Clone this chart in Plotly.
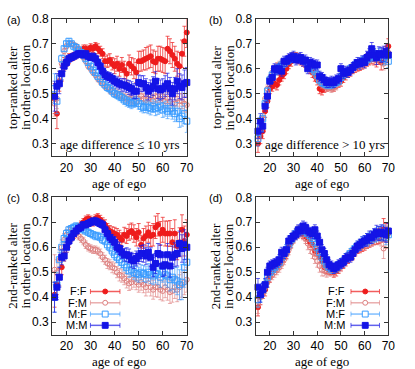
import plotly.graph_objects as go

# ages of ego (one bin per year)
ages = list(range(15, 71))
groups = ['F:F', 'F:M', 'M:F', 'M:M']

# (a) top-ranked alter, age difference <= 10 yrs
a_ff = [0.48, 0.42, 0.55, 0.58, 0.62, 0.63, 0.64, 0.645, 0.65, 0.655, 0.66, 0.665, 0.68, 0.68, 0.675, 0.685, 0.68, 0.69, 0.68, 0.67,
        0.66, 0.63, 0.63, 0.635, 0.62, 0.61, 0.62, 0.60, 0.615, 0.595, 0.58, 0.62, 0.61, 0.60, 0.585, 0.63, 0.63, 0.635, 0.64, 0.645,
        0.65, 0.63, 0.625, 0.64, 0.64, 0.635, 0.63, 0.68, 0.67, 0.655, 0.64, 0.62, 0.61, 0.66, 0.71, 0.745]
a_ff_err = [0.06, 0.06, 0.04, 0.03, 0.025, 0.02, 0.02, 0.015, 0.015, 0.015, 0.015, 0.015, 0.015, 0.015, 0.015, 0.015, 0.015, 0.015, 0.02, 0.02,
            0.02, 0.02, 0.025, 0.025, 0.025, 0.03, 0.03, 0.03, 0.03, 0.035, 0.035, 0.035, 0.035, 0.04, 0.04, 0.04, 0.04, 0.04, 0.045, 0.045,
            0.045, 0.045, 0.045, 0.05, 0.05, 0.05, 0.05, 0.05, 0.05, 0.05, 0.05, 0.05, 0.055, 0.055, 0.06, 0.06]
a_fm = [0.46, 0.48, 0.55, 0.62, 0.67, 0.69, 0.70, 0.70, 0.695, 0.69, 0.68, 0.665, 0.645, 0.63, 0.61, 0.60, 0.585, 0.575, 0.56, 0.55,
        0.54, 0.53, 0.525, 0.515, 0.51, 0.505, 0.50, 0.495, 0.49, 0.485, 0.48, 0.48, 0.475, 0.47, 0.47, 0.48, 0.49, 0.48, 0.475, 0.48,
        0.49, 0.47, 0.49, 0.49, 0.48, 0.49, 0.47, 0.48, 0.47, 0.46, 0.46, 0.48, 0.47, 0.47, 0.46, 0.455]
a_fm_err = [0.05, 0.04, 0.025, 0.015, 0.012, 0.01, 0.01, 0.01, 0.01, 0.01, 0.01, 0.01, 0.01, 0.01, 0.01, 0.01, 0.01, 0.01, 0.012, 0.012,
            0.012, 0.012, 0.012, 0.015, 0.015, 0.015, 0.015, 0.015, 0.015, 0.015, 0.018, 0.018, 0.018, 0.018, 0.02, 0.02, 0.02, 0.02, 0.02, 0.022,
            0.022, 0.022, 0.022, 0.025, 0.025, 0.025, 0.025, 0.025, 0.028, 0.028, 0.028, 0.03, 0.03, 0.03, 0.03, 0.03]
a_mf = [0.52, 0.47, 0.56, 0.64, 0.68, 0.70, 0.71, 0.70, 0.69, 0.685, 0.675, 0.665, 0.655, 0.64, 0.625, 0.61, 0.595, 0.585, 0.57, 0.56,
        0.545, 0.535, 0.525, 0.52, 0.51, 0.50, 0.495, 0.49, 0.485, 0.475, 0.47, 0.465, 0.46, 0.465, 0.47, 0.46, 0.45, 0.445, 0.45, 0.445,
        0.44, 0.45, 0.44, 0.445, 0.45, 0.435, 0.44, 0.43, 0.44, 0.43, 0.42, 0.43, 0.40, 0.41, 0.42, 0.39]
a_mf_err = [0.06, 0.05, 0.03, 0.015, 0.01, 0.01, 0.01, 0.01, 0.01, 0.01, 0.01, 0.01, 0.01, 0.01, 0.01, 0.01, 0.01, 0.01, 0.012, 0.012,
            0.012, 0.012, 0.015, 0.015, 0.015, 0.015, 0.015, 0.018, 0.018, 0.018, 0.02, 0.02, 0.02, 0.02, 0.02, 0.022, 0.022, 0.022, 0.025, 0.025,
            0.025, 0.025, 0.028, 0.028, 0.028, 0.03, 0.03, 0.03, 0.03, 0.032, 0.032, 0.035, 0.035, 0.04, 0.04, 0.045]
a_mm = [0.49, 0.53, 0.54, 0.58, 0.61, 0.625, 0.64, 0.645, 0.65, 0.655, 0.66, 0.66, 0.655, 0.66, 0.65, 0.645, 0.65, 0.64, 0.625, 0.61,
        0.59, 0.575, 0.57, 0.565, 0.56, 0.55, 0.545, 0.54, 0.535, 0.535, 0.53, 0.525, 0.52, 0.51, 0.51, 0.545, 0.54, 0.54, 0.525, 0.51,
        0.52, 0.53, 0.55, 0.52, 0.515, 0.52, 0.53, 0.54, 0.52, 0.50, 0.52, 0.55, 0.53, 0.525, 0.54, 0.545]
a_mm_err = [0.06, 0.05, 0.04, 0.025, 0.02, 0.015, 0.015, 0.012, 0.012, 0.012, 0.012, 0.012, 0.012, 0.012, 0.012, 0.012, 0.012, 0.015, 0.015, 0.015,
            0.015, 0.018, 0.018, 0.02, 0.02, 0.02, 0.022, 0.022, 0.025, 0.025, 0.025, 0.028, 0.028, 0.03, 0.03, 0.03, 0.032, 0.032, 0.035, 0.035,
            0.035, 0.038, 0.038, 0.04, 0.04, 0.04, 0.042, 0.042, 0.045, 0.045, 0.045, 0.05, 0.05, 0.05, 0.055, 0.06]

# (b) top-ranked alter, age difference > 10 yrs
b_ff = [0.30, 0.33, 0.35, 0.43, 0.47, 0.52, 0.53, 0.54, 0.535, 0.555, 0.57, 0.58, 0.60, 0.62, 0.63, 0.645, 0.645, 0.64, 0.635, 0.63,
        0.625, 0.615, 0.60, 0.585, 0.57, 0.555, 0.52, 0.515, 0.525, 0.53, 0.535, 0.535, 0.53, 0.54, 0.545, 0.55, 0.565, 0.575, 0.585, 0.59,
        0.60, 0.605, 0.61, 0.615, 0.62, 0.625, 0.635, 0.64, 0.645, 0.64, 0.635, 0.645, 0.625, 0.65, 0.66, 0.69]
b_ff_err = [0.035, 0.03, 0.03, 0.025, 0.025, 0.02, 0.02, 0.02, 0.02, 0.02, 0.02, 0.02, 0.02, 0.02, 0.02, 0.02, 0.02, 0.02, 0.02, 0.02,
            0.02, 0.02, 0.02, 0.02, 0.02, 0.02, 0.02, 0.02, 0.02, 0.02, 0.02, 0.02, 0.02, 0.02, 0.02, 0.02, 0.02, 0.02, 0.02, 0.02,
            0.02, 0.02, 0.02, 0.022, 0.022, 0.022, 0.025, 0.025, 0.025, 0.025, 0.028, 0.028, 0.03, 0.03, 0.03, 0.03]
b_fm = [0.33, 0.36, 0.40, 0.48, 0.52, 0.56, 0.585, 0.60, 0.61, 0.615, 0.62, 0.625, 0.63, 0.64, 0.645, 0.65, 0.65, 0.645, 0.64, 0.63,
        0.62, 0.61, 0.60, 0.59, 0.575, 0.56, 0.545, 0.535, 0.53, 0.525, 0.525, 0.52, 0.525, 0.53, 0.545, 0.56, 0.57, 0.58, 0.585, 0.595,
        0.60, 0.61, 0.615, 0.62, 0.625, 0.63, 0.635, 0.645, 0.64, 0.65, 0.645, 0.64, 0.645, 0.62, 0.64, 0.665]
b_fm_err = [0.03, 0.025, 0.02, 0.02, 0.015, 0.015, 0.015, 0.015, 0.015, 0.015, 0.015, 0.015, 0.015, 0.015, 0.015, 0.015, 0.015, 0.015, 0.015, 0.015,
            0.015, 0.015, 0.015, 0.015, 0.015, 0.015, 0.015, 0.015, 0.015, 0.015, 0.015, 0.015, 0.015, 0.015, 0.015, 0.015, 0.015, 0.015, 0.015, 0.015,
            0.015, 0.015, 0.015, 0.018, 0.018, 0.018, 0.02, 0.02, 0.02, 0.02, 0.022, 0.022, 0.025, 0.025, 0.025, 0.025]
b_mf = [0.32, 0.36, 0.40, 0.46, 0.51, 0.555, 0.575, 0.59, 0.60, 0.605, 0.615, 0.62, 0.63, 0.635, 0.64, 0.645, 0.645, 0.64, 0.64, 0.635,
        0.63, 0.62, 0.61, 0.60, 0.59, 0.575, 0.555, 0.545, 0.54, 0.535, 0.535, 0.535, 0.54, 0.545, 0.55, 0.565, 0.575, 0.585, 0.59, 0.60,
        0.605, 0.615, 0.62, 0.625, 0.63, 0.635, 0.64, 0.645, 0.65, 0.655, 0.65, 0.66, 0.655, 0.64, 0.65, 0.63]
b_mf_err = [0.03, 0.025, 0.02, 0.02, 0.015, 0.015, 0.015, 0.015, 0.015, 0.015, 0.015, 0.015, 0.015, 0.015, 0.015, 0.015, 0.015, 0.015, 0.015, 0.015,
            0.015, 0.015, 0.015, 0.015, 0.015, 0.015, 0.015, 0.015, 0.015, 0.015, 0.015, 0.015, 0.015, 0.015, 0.015, 0.015, 0.015, 0.015, 0.015, 0.015,
            0.015, 0.015, 0.015, 0.018, 0.018, 0.018, 0.02, 0.02, 0.02, 0.02, 0.022, 0.022, 0.025, 0.025, 0.025, 0.025]
b_mm = [0.35, 0.39, 0.37, 0.45, 0.49, 0.55, 0.565, 0.60, 0.595, 0.60, 0.59, 0.63, 0.63, 0.64, 0.645, 0.65, 0.635, 0.64, 0.645, 0.63,
        0.635, 0.60, 0.625, 0.62, 0.615, 0.615, 0.57, 0.565, 0.555, 0.545, 0.545, 0.55, 0.545, 0.555, 0.56, 0.60, 0.58, 0.59, 0.585, 0.595,
        0.605, 0.615, 0.625, 0.62, 0.63, 0.625, 0.645, 0.655, 0.68, 0.655, 0.645, 0.66, 0.655, 0.66, 0.67, 0.655]
b_mm_err = [0.03, 0.03, 0.025, 0.02, 0.02, 0.02, 0.02, 0.02, 0.02, 0.02, 0.02, 0.02, 0.02, 0.02, 0.02, 0.02, 0.02, 0.02, 0.02, 0.02,
            0.02, 0.02, 0.02, 0.02, 0.02, 0.02, 0.02, 0.02, 0.02, 0.02, 0.02, 0.02, 0.02, 0.02, 0.02, 0.02, 0.02, 0.02, 0.02, 0.02,
            0.02, 0.02, 0.02, 0.022, 0.022, 0.022, 0.025, 0.025, 0.025, 0.025, 0.028, 0.028, 0.03, 0.03, 0.03, 0.03]

# (c) 2nd-ranked alter, age difference <= 10 yrs
c_ff = [0.41, 0.45, 0.48, 0.52, 0.57, 0.60, 0.62, 0.64, 0.65, 0.665, 0.68, 0.69, 0.70, 0.71, 0.715, 0.71, 0.70, 0.715, 0.72, 0.71,
        0.70, 0.69, 0.675, 0.665, 0.66, 0.655, 0.65, 0.64, 0.63, 0.65, 0.645, 0.66, 0.665, 0.655, 0.64, 0.66, 0.61, 0.635, 0.645, 0.66,
        0.645, 0.65, 0.68, 0.69, 0.655, 0.67, 0.655, 0.655, 0.655, 0.62, 0.655, 0.605, 0.62, 0.67, 0.625, 0.65]
c_ff_err = [0.05, 0.04, 0.035, 0.03, 0.025, 0.02, 0.02, 0.015, 0.015, 0.015, 0.015, 0.015, 0.015, 0.015, 0.015, 0.015, 0.015, 0.015, 0.015, 0.018,
            0.018, 0.02, 0.02, 0.022, 0.022, 0.025, 0.025, 0.028, 0.028, 0.03, 0.03, 0.032, 0.032, 0.035, 0.035, 0.035, 0.038, 0.04, 0.04, 0.04,
            0.042, 0.045, 0.045, 0.045, 0.048, 0.05, 0.05, 0.05, 0.052, 0.055, 0.055, 0.055, 0.058, 0.06, 0.06, 0.06]
c_fm = [0.51, 0.50, 0.55, 0.60, 0.63, 0.65, 0.66, 0.665, 0.66, 0.655, 0.645, 0.635, 0.625, 0.61, 0.60, 0.595, 0.59, 0.59, 0.585, 0.575,
        0.56, 0.55, 0.535, 0.53, 0.52, 0.515, 0.50, 0.49, 0.485, 0.475, 0.465, 0.455, 0.46, 0.47, 0.46, 0.45, 0.46, 0.45, 0.44, 0.455,
        0.44, 0.43, 0.44, 0.44, 0.43, 0.425, 0.44, 0.43, 0.42, 0.425, 0.44, 0.43, 0.44, 0.45, 0.46, 0.47]
c_fm_err = [0.06, 0.05, 0.04, 0.03, 0.025, 0.02, 0.02, 0.015, 0.015, 0.015, 0.015, 0.015, 0.015, 0.015, 0.015, 0.015, 0.015, 0.015, 0.015, 0.018,
            0.018, 0.018, 0.02, 0.02, 0.022, 0.022, 0.022, 0.025, 0.025, 0.025, 0.028, 0.028, 0.028, 0.03, 0.03, 0.03, 0.032, 0.032, 0.035, 0.035,
            0.035, 0.038, 0.038, 0.04, 0.04, 0.04, 0.042, 0.042, 0.045, 0.045, 0.045, 0.048, 0.05, 0.05, 0.05, 0.05]
c_mf = [0.40, 0.45, 0.55, 0.60, 0.635, 0.655, 0.67, 0.675, 0.68, 0.685, 0.68, 0.675, 0.67, 0.665, 0.66, 0.655, 0.65, 0.645, 0.645, 0.64,
        0.63, 0.625, 0.61, 0.60, 0.585, 0.57, 0.56, 0.55, 0.54, 0.53, 0.52, 0.505, 0.51, 0.50, 0.495, 0.49, 0.50, 0.495, 0.49, 0.50,
        0.49, 0.485, 0.495, 0.49, 0.48, 0.50, 0.49, 0.485, 0.47, 0.48, 0.47, 0.465, 0.45, 0.46, 0.52, 0.54]
c_mf_err = [0.06, 0.05, 0.03, 0.02, 0.015, 0.015, 0.012, 0.012, 0.012, 0.012, 0.012, 0.012, 0.012, 0.012, 0.012, 0.012, 0.012, 0.015, 0.015, 0.015,
            0.015, 0.015, 0.018, 0.018, 0.018, 0.02, 0.02, 0.022, 0.022, 0.025, 0.025, 0.025, 0.028, 0.028, 0.03, 0.03, 0.03, 0.032, 0.032, 0.035,
            0.035, 0.035, 0.038, 0.04, 0.04, 0.04, 0.042, 0.045, 0.045, 0.05, 0.05, 0.055, 0.06, 0.07, 0.08, 0.09]
c_mm = [0.40, 0.44, 0.48, 0.56, 0.565, 0.60, 0.625, 0.64, 0.655, 0.665, 0.675, 0.68, 0.69, 0.69, 0.695, 0.70, 0.705, 0.705, 0.70, 0.695,
        0.69, 0.67, 0.655, 0.64, 0.63, 0.62, 0.60, 0.595, 0.58, 0.57, 0.57, 0.565, 0.55, 0.545, 0.555, 0.565, 0.575, 0.575, 0.565, 0.58,
        0.56, 0.52, 0.535, 0.575, 0.57, 0.525, 0.53, 0.57, 0.525, 0.56, 0.57, 0.575, 0.615, 0.595, 0.61, 0.60]
c_mm_err = [0.06, 0.05, 0.04, 0.03, 0.02, 0.02, 0.015, 0.015, 0.012, 0.012, 0.012, 0.012, 0.012, 0.012, 0.012, 0.012, 0.012, 0.015, 0.015, 0.015,
            0.015, 0.018, 0.018, 0.02, 0.02, 0.022, 0.022, 0.025, 0.025, 0.025, 0.028, 0.028, 0.03, 0.03, 0.03, 0.032, 0.032, 0.035, 0.035, 0.035,
            0.038, 0.038, 0.04, 0.04, 0.04, 0.042, 0.042, 0.045, 0.045, 0.045, 0.048, 0.05, 0.05, 0.055, 0.06, 0.06]

# (d) 2nd-ranked alter, age difference > 10 yrs
d_ff = [0.36, 0.40, 0.42, 0.43, 0.46, 0.48, 0.50, 0.51, 0.52, 0.53, 0.545, 0.56, 0.575, 0.60, 0.62, 0.64, 0.655, 0.665, 0.665, 0.655,
        0.645, 0.635, 0.62, 0.61, 0.585, 0.585, 0.56, 0.545, 0.52, 0.515, 0.51, 0.51, 0.50, 0.505, 0.515, 0.525, 0.535, 0.545, 0.555, 0.565,
        0.57, 0.585, 0.595, 0.60, 0.605, 0.61, 0.62, 0.625, 0.63, 0.635, 0.64, 0.645, 0.65, 0.67, 0.66, 0.665]
d_ff_err = [0.035, 0.03, 0.025, 0.025, 0.02, 0.02, 0.02, 0.02, 0.02, 0.02, 0.02, 0.02, 0.02, 0.02, 0.02, 0.02, 0.02, 0.02, 0.02, 0.02,
            0.02, 0.02, 0.02, 0.02, 0.02, 0.02, 0.02, 0.02, 0.02, 0.02, 0.02, 0.02, 0.02, 0.02, 0.02, 0.02, 0.02, 0.02, 0.02, 0.02,
            0.02, 0.02, 0.02, 0.022, 0.022, 0.022, 0.025, 0.025, 0.025, 0.025, 0.028, 0.03, 0.03, 0.045, 0.035, 0.03]
d_fm = [0.37, 0.40, 0.42, 0.44, 0.46, 0.48, 0.49, 0.50, 0.51, 0.52, 0.535, 0.55, 0.57, 0.59, 0.615, 0.635, 0.65, 0.655, 0.66, 0.65,
        0.635, 0.615, 0.60, 0.58, 0.56, 0.545, 0.525, 0.51, 0.505, 0.50, 0.505, 0.505, 0.51, 0.515, 0.52, 0.53, 0.54, 0.55, 0.56, 0.57,
        0.58, 0.59, 0.60, 0.605, 0.61, 0.615, 0.62, 0.625, 0.63, 0.635, 0.64, 0.64, 0.635, 0.595, 0.63, 0.655]
d_fm_err = [0.035, 0.03, 0.025, 0.025, 0.02, 0.02, 0.02, 0.02, 0.02, 0.02, 0.02, 0.02, 0.02, 0.02, 0.02, 0.02, 0.02, 0.02, 0.02, 0.02,
            0.02, 0.025, 0.025, 0.025, 0.025, 0.025, 0.025, 0.025, 0.02, 0.02, 0.02, 0.02, 0.02, 0.02, 0.02, 0.02, 0.02, 0.02, 0.02, 0.02,
            0.02, 0.02, 0.02, 0.022, 0.022, 0.022, 0.025, 0.025, 0.025, 0.025, 0.028, 0.03, 0.03, 0.04, 0.035, 0.03]
d_mf = [0.39, 0.41, 0.43, 0.45, 0.48, 0.50, 0.51, 0.52, 0.53, 0.54, 0.56, 0.575, 0.59, 0.61, 0.63, 0.645, 0.655, 0.665, 0.67, 0.67,
        0.665, 0.655, 0.645, 0.635, 0.62, 0.60, 0.58, 0.56, 0.545, 0.53, 0.52, 0.515, 0.515, 0.52, 0.525, 0.535, 0.545, 0.555, 0.565, 0.575,
        0.585, 0.595, 0.605, 0.61, 0.62, 0.625, 0.63, 0.635, 0.64, 0.645, 0.65, 0.655, 0.655, 0.66, 0.64, 0.65]
d_mf_err = [0.03, 0.03, 0.025, 0.02, 0.02, 0.02, 0.02, 0.02, 0.02, 0.02, 0.02, 0.02, 0.02, 0.02, 0.02, 0.02, 0.02, 0.02, 0.02, 0.02,
            0.02, 0.02, 0.02, 0.02, 0.02, 0.02, 0.02, 0.02, 0.02, 0.02, 0.02, 0.02, 0.02, 0.02, 0.02, 0.02, 0.02, 0.02, 0.02, 0.02,
            0.02, 0.02, 0.02, 0.022, 0.022, 0.022, 0.025, 0.025, 0.025, 0.025, 0.028, 0.028, 0.03, 0.03, 0.03, 0.03]
d_mm = [0.44, 0.41, 0.43, 0.45, 0.50, 0.525, 0.53, 0.535, 0.54, 0.55, 0.58, 0.575, 0.59, 0.625, 0.635, 0.645, 0.65, 0.67, 0.665, 0.685,
        0.68, 0.665, 0.66, 0.655, 0.67, 0.645, 0.62, 0.59, 0.575, 0.55, 0.53, 0.525, 0.515, 0.52, 0.53, 0.535, 0.54, 0.555, 0.56, 0.56,
        0.575, 0.59, 0.605, 0.61, 0.62, 0.625, 0.63, 0.64, 0.64, 0.65, 0.66, 0.655, 0.66, 0.655, 0.65, 0.665]
d_mm_err = [0.035, 0.03, 0.025, 0.025, 0.02, 0.02, 0.02, 0.02, 0.02, 0.02, 0.02, 0.02, 0.02, 0.02, 0.02, 0.02, 0.02, 0.02, 0.02, 0.02,
            0.02, 0.02, 0.02, 0.02, 0.02, 0.02, 0.02, 0.02, 0.02, 0.02, 0.02, 0.02, 0.02, 0.02, 0.02, 0.02, 0.02, 0.02, 0.02, 0.02,
            0.02, 0.02, 0.02, 0.022, 0.022, 0.022, 0.025, 0.025, 0.025, 0.025, 0.028, 0.028, 0.03, 0.03, 0.03, 0.03]

panels = [
    [(a_ff, a_ff_err), (a_fm, a_fm_err), (a_mf, a_mf_err), (a_mm, a_mm_err)],
    [(b_ff, b_ff_err), (b_fm, b_fm_err), (b_mf, b_mf_err), (b_mm, b_mm_err)],
    [(c_ff, c_ff_err), (c_fm, c_fm_err), (c_mf, c_mf_err), (c_mm, c_mm_err)],
    [(d_ff, d_ff_err), (d_fm, d_fm_err), (d_mf, d_mf_err), (d_mm, d_mm_err)],
]

# marker styles per group
styles = {
    'F:F': dict(color='#ee1c1c', bar='rgba(238,40,40,0.75)', symbol='circle', size=5, fill=True, shape='circle'),
    'F:M': dict(color='#dd8080', bar='rgba(220,120,120,0.6)', symbol='circle-open', size=5, fill=False, shape='circle'),
    'M:F': dict(color='#3a9cff', bar='rgba(60,155,255,0.65)', symbol='square-open', size=6, fill=False, shape='rect'),
    'M:M': dict(color='#1414e6', bar='rgba(30,30,230,0.7)', symbol='square', size=6, fill=True, shape='rect'),
}

W, H = 415, 369
xdom = [[53 / W, 190 / W], [260 / W, 395 / W]]
ydom = [[1 - 152 / H, 1 - 12 / H], [1 - 334 / H, 1 - 194 / H]]

fig = go.Figure()

for p, series in enumerate(panels):
    n = '' if p == 0 else str(p + 1)
    for g, (vals, errs) in zip(groups, series):
        s = styles[g]
        fig.add_trace(go.Scatter(
            x=ages, y=vals, mode='markers', showlegend=False,
            xaxis='x' + n, yaxis='y' + n, cliponaxis=False,
            marker=dict(symbol=s['symbol'], size=s['size'], color=s['color'],
                        line=dict(color=s['color'], width=1)),
            error_y=dict(type='data', array=errs, color=s['bar'], thickness=1, width=2),
        ))

axis_common = dict(ticks='inside', ticklen=4, tickcolor='#333', showline=True, linecolor='#333',
                   linewidth=1, mirror='ticks', showgrid=False, zeroline=False,
                   tickfont=dict(family='Liberation Sans', size=12, color='black'))
layout = dict(width=W, height=H, margin=dict(l=0, r=0, t=0, b=0), showlegend=False,
              paper_bgcolor='white', plot_bgcolor='white')
for p in range(4):
    n = '' if p == 0 else str(p + 1)
    layout['xaxis' + n] = dict(axis_common, domain=xdom[p % 2], range=[14, 70],
                               tickvals=[20, 30, 40, 50, 60, 70], anchor='y' + n)
    layout['yaxis' + n] = dict(axis_common, domain=ydom[p // 2], range=[0.25, 0.8],
                               tickvals=[0.3, 0.4, 0.5, 0.6, 0.7, 0.8], tickformat='.1f',
                               anchor='x' + n)
fig.update_layout(**layout)

# hand-drawn keys in panels (c) and (d): label, then errorbar-style sample
rows = [290, 301.5, 313, 324.5]
for text_right, x0, x1 in [(90, 92, 122), (352, 357, 386)]:
    xm = (x0 + x1) / 2
    for g, py in zip(groups, rows):
        s = styles[g]
        fig.add_annotation(xref='paper', yref='paper', showarrow=False, x=text_right / W, y=1 - py / H,
                           xanchor='right', yanchor='middle', text=g, borderpad=0,
                           font=dict(family='Liberation Sans', size=11, color='black'))
        fig.add_shape(type='line', xref='paper', yref='paper', x0=x0 / W, x1=x1 / W,
                      y0=1 - py / H, y1=1 - py / H, line=dict(color=s['bar'], width=1.5))
        for xc in (x0, x1):
            fig.add_shape(type='line', xref='paper', yref='paper', x0=xc / W, x1=xc / W,
                          y0=1 - (py - 2.5) / H, y1=1 - (py + 2.5) / H, line=dict(color=s['bar'], width=1))
        r = s['size'] / 2
        fig.add_shape(type=s['shape'], xref='paper', yref='paper',
                      x0=(xm - r) / W, x1=(xm + r) / W, y0=1 - (py - r) / H, y1=1 - (py + r) / H,
                      line=dict(color=s['color'], width=1),
                      fillcolor=s['color'] if s['fill'] else 'white')

serif = dict(family='Liberation Serif', size=13, color='black')
sans = dict(family='Liberation Sans', size=11, color='black')
notes = []
for x0 in [121.5, 327.5]:
    notes.append(dict(x=x0 / W, y=1 - 180 / H, text='age of ego'))
    notes.append(dict(x=x0 / W, y=1 - 361 / H, text='age of ego'))
for dx in [0, 207]:
    notes.append(dict(x=(13 + dx) / W, y=1 - 82 / H, text='top-ranked alter', textangle=-90))
    notes.append(dict(x=(26 + dx) / W, y=1 - 82 / H, text='in other location', textangle=-90))
    notes.append(dict(x=(13 + dx) / W, y=1 - 264 / H, text='2nd-ranked alter', textangle=-90))
    notes.append(dict(x=(26 + dx) / W, y=1 - 264 / H, text='in other location', textangle=-90))
notes.append(dict(x=122 / W, y=1 - 140 / H, text='age difference ≤ 10 yrs'))
notes.append(dict(x=331 / W, y=1 - 140 / H, text='age difference > 10 yrs'))
for a in notes:
    fig.add_annotation(xref='paper', yref='paper', showarrow=False, font=serif,
                       xanchor='center', yanchor='middle', **a)
for lab, x0, y0 in [('(a)', 14, 13), ('(b)', 219, 13), ('(c)', 14, 195), ('(d)', 219, 195)]:
    fig.add_annotation(xref='paper', yref='paper', showarrow=False, font=sans,
                       x=x0 / W, y=1 - y0 / H, xanchor='center', yanchor='middle', text=lab)

fig.write_html("out.html", config={'displayModeBar': False},
               post_script="document.body.style.margin='0px';")
